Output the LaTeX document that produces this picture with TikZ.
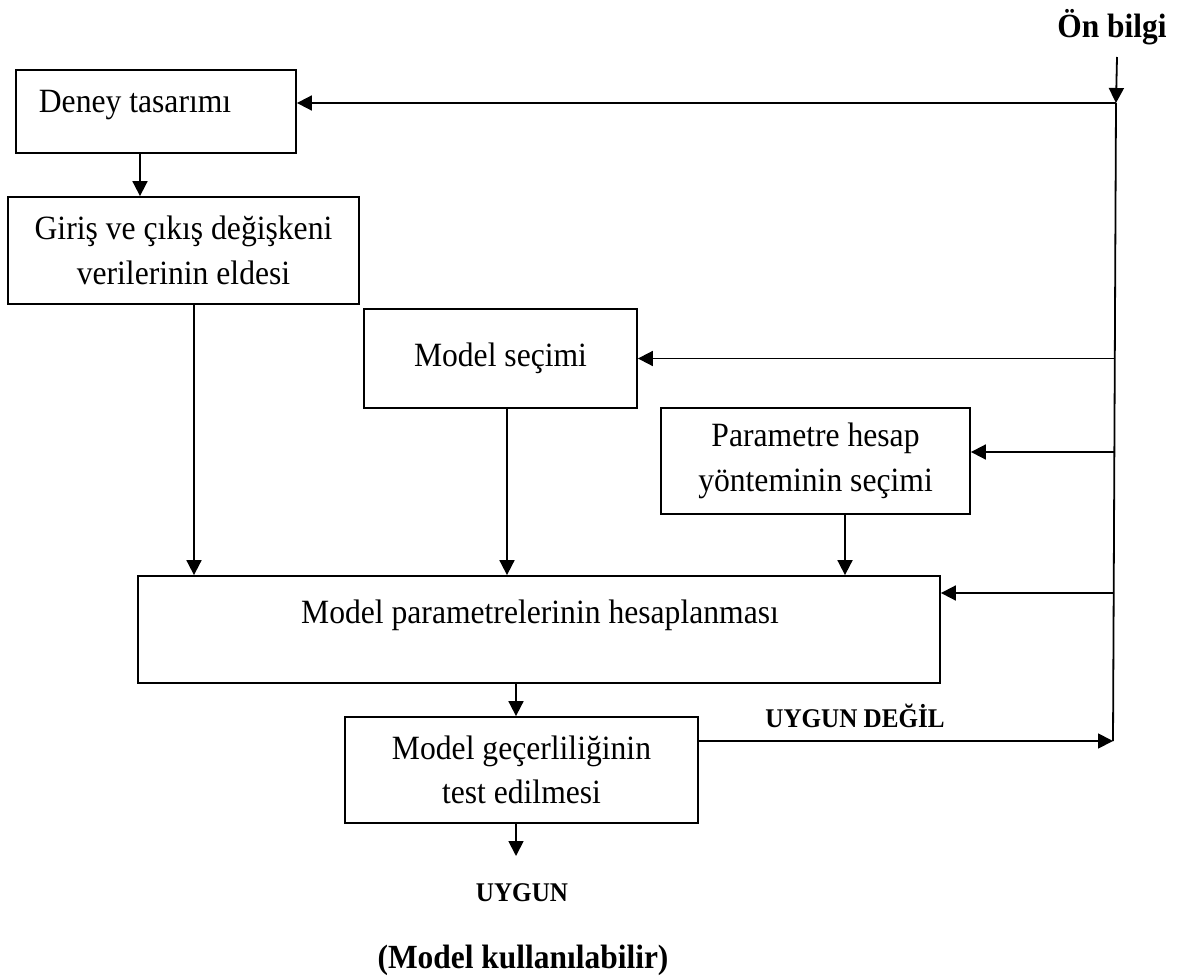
\documentclass[tikz,border=0pt]{standalone}
\usepackage{fontspec}
\setmainfont{Liberation Serif}[FakeStretch=0.93]
\usetikzlibrary{arrows.meta}
\begin{document}
\begin{tikzpicture}[x=1pt,y=-1pt,line width=1.8pt,
  box/.style={draw,line width=1.8pt,inner sep=0pt,font=\fontsize{34}{44.5}\selectfont,align=center},
  txt/.style={font=\fontsize{34}{44.5}\selectfont,inner sep=0pt},
  lbl/.style={font=\bfseries\fontsize{27}{32}\selectfont,inner sep=0pt},
  biglbl/.style={font=\bfseries\fontsize{33.8}{38}\selectfont,inner sep=0pt},
  arr/.style={-{Triangle[length=15pt,width=15pt]}}]
\useasboundingbox (0,0) rectangle (1199,979);

% boxes
\node[box,minimum width=280pt,minimum height=83pt] (deney) at (156,111.5) {};
\node[txt,anchor=base west] (deneytxt) at (38,113) {Deney tasarımı};
\node[box,minimum width=351pt,minimum height=107pt] (giris) at (183.5,250.5) {Giriş ve çıkış değişkeni\\verilerinin eldesi};
\node[box,minimum width=273pt,minimum height=99pt] (msec) at (500.5,358.5) {Model seçimi};
\node[box,minimum width=309pt,minimum height=106pt] (psec) at (815.5,461) {Parametre hesap\\yönteminin seçimi};
\node[box,minimum width=802pt,minimum height=107pt] (mpar) at (539,629.5) {};
\node[txt,anchor=base] (mpartxt) at (540,623) {Model parametrelerinin hesaplanması};
\node[box,minimum width=353pt,minimum height=106pt] (test) at (521.5,770) {Model geçerliliğinin\\test edilmesi};

% labels
\node[biglbl] (onbilgi) at (1112,27) {Ön bilgi};
\node[lbl] (degil) at (855,716) {UYGUN DEĞİL};
\node[lbl] (uygun) at (522,893) {UYGUN};
\node[biglbl] (kullan) at (523,960) {(Model kullanılabilir)};

% bus coordinates
\coordinate (onstart) at (1117,57);
\coordinate (bustop) at (1116,103);
\coordinate (busbot) at (1113,741);
\coordinate (uygunend) at (516,856);

% vertical flow
\draw[arr] (140,0 |- deney.south) -- (140,0 |- giris.north);
\draw[arr] (194,0 |- giris.south) -- (194,0 |- mpar.north);
\draw[arr] (507,0 |- msec.south) -- (507,0 |- mpar.north);
\draw[arr] (845,0 |- psec.south) -- (845,0 |- mpar.north);
\draw[arr] (516,0 |- mpar.south) -- (516,0 |- test.north);
\draw[arr] (516,0 |- test.south) -- (uygunend);

% feedback bus
\draw[arr] (onstart) -- (bustop);
\draw (bustop) -- (busbot);
\draw[arr] (test.east |- busbot) -- (busbot);
\draw[arr] (bustop) -- (deney.east |- bustop);
\draw[arr] (1115,0 |- msec.east) -- (msec.east);
\draw[arr] (1115,452) -- (psec.east |- 0,452);
\draw[arr] (1114,593) -- (mpar.east |- 0,593);
\end{tikzpicture}
\end{document}
